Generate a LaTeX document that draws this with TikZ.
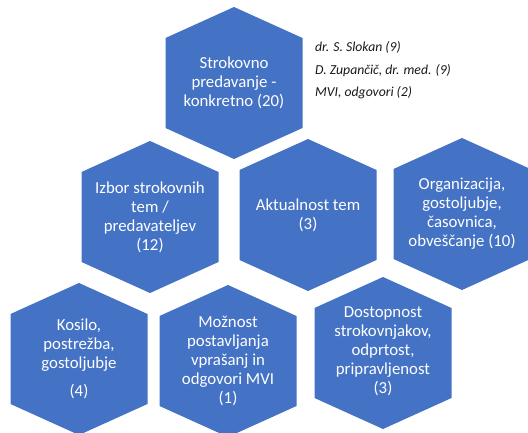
\documentclass[tikz,border=0pt]{standalone}
\usepackage{fontspec}
\setmainfont{Carlito}
\usepackage{tikz}
\usetikzlibrary{calc}

\definecolor{hexblue}{RGB}{68,114,196}

\begin{document}
\begin{tikzpicture}[x=1pt, y=-1pt,
        hex_style/.style={fill=hexblue},
        text_style/.style={text=white, align=center, inner sep=0pt, font=\fontsize{16.8}{19}\selectfont},
        note_style/.style={anchor=base west, inner sep=0pt, text=black!90, font=\fontsize{13.7}{16}\selectfont\itshape}]

        \useasboundingbox (0,0) rectangle (528,433);

        % top
        \fill [hex_style] (234,83) node[text_style] (n1) {Strokovno\\ predavanje -\\ konkretno (20)}
            ++(0,-76) -- ++(68.5,31) -- ++(0,90) -- ++(-68.5,31) -- ++(-68.5,-31) -- ++(0,-90) -- cycle;

        \node [note_style] (t1) at (315,52) {dr. S. Slokan (9)};
        \node [note_style] (t2) at (315,75) {D. Zupančič, dr. med. (9)};
        \node [note_style] (t3) at (315,97) {MVI, odgovori (2)};

        % middle row
        \fill [hex_style] (150,217) node[text_style] (n2) {Izbor strokovnih\\ tem /\\ predavateljev\\ (12)}
            ++(0,-76) -- ++(68.5,31) -- ++(0,90) -- ++(-68.5,31) -- ++(-68.5,-31) -- ++(0,-90) -- cycle;

        \fill [hex_style] (308,215) node[text_style] (n3) {Aktualnost tem\\ (3)}
            ++(0,-76) -- ++(68.5,31) -- ++(0,90) -- ++(-68.5,31) -- ++(-68.5,-31) -- ++(0,-90) -- cycle;

        \fill [hex_style] (462,214) node[text_style] (n4) {Organizacija,\\ gostoljubje,\\ časovnica,\\ obveščanje (10)}
            ++(0,-76) -- ++(68.5,31) -- ++(0,90) -- ++(-68.5,31) -- ++(-68.5,-31) -- ++(0,-90) -- cycle;

        % bottom row
        \fill [hex_style] (79,359) node[text_style] (n5) {Kosilo,\\ postrežba,\\ gostoljubje\\[9pt] (4)}
            ++(0,-76) -- ++(68.5,31) -- ++(0,90) -- ++(-68.5,31) -- ++(-68.5,-31) -- ++(0,-90) -- cycle;

        \fill [hex_style] (228,361) node[text_style] (n6) {Možnost\\ postavljanja\\ vprašanj in\\ odgovori MVI\\ (1)}
            ++(0,-76) -- ++(68.5,31) -- ++(0,90) -- ++(-68.5,31) -- ++(-68.5,-31) -- ++(0,-90) -- cycle;

        \fill [hex_style] (383,351) node[text_style] (n7) {Dostopnost\\ strokovnjakov,\\ odprtost,\\ pripravljenost\\ (3)}
            ++(0,-74) -- ++(68.5,31) -- ++(0,90) -- ++(-68.5,31) -- ++(-68.5,-31) -- ++(0,-90) -- cycle;

\end{tikzpicture}
\end{document}
